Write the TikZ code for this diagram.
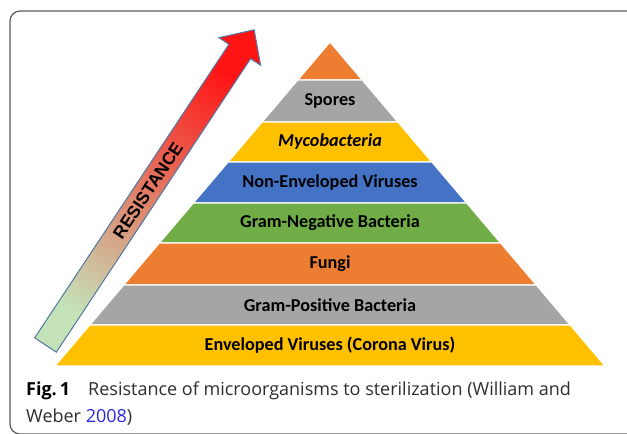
\documentclass[tikz,border=0pt]{standalone}
\usepackage{fontspec}
\usepackage{xcolor}
\usetikzlibrary{arrows.meta,positioning,calc}
\newfontfamily\bandfont{Carlito}
\newfontfamily\arrowfont{Liberation Sans}
\newfontfamily\capfont{Open Sans}
\definecolor{cOrange}{RGB}{237,125,49}
\definecolor{cGrey}{RGB}{165,165,165}
\definecolor{cYellow}{RGB}{255,192,0}
\definecolor{cBlue}{RGB}{68,114,196}
\definecolor{cGreen}{RGB}{112,173,71}
\definecolor{cLow}{RGB}{196,226,184}
\definecolor{cMid}{RGB}{222,150,118}
\definecolor{cHigh}{RGB}{255,20,20}
\definecolor{cEdge}{RGB}{80,120,165}
\definecolor{cFrame}{RGB}{90,90,90}
\definecolor{cLink}{RGB}{40,40,230}
\definecolor{cCap}{RGB}{45,45,45}
\tikzset{
  boxframe/.style={draw=cFrame, line width=1.2pt, rounded corners=10pt},
  lay/.style={draw=white, line width=1.2pt},
  band/.style={font=\bandfont\bfseries\fontsize{18.2}{21}\selectfont,
               text=black, inner sep=0pt},
  resarrow/.style={draw=cEdge, line width=1pt, bottom color=cLow, middle color=cMid,
               top color=cHigh, shading angle=-33.5},
  restxt/.style={font=\arrowfont\bfseries\fontsize{17.5}{20}\selectfont,
               text=black, inner sep=0pt},
  captxt/.style={font=\capfont\fontsize{18}{22}\selectfont, text=cCap,
              anchor=base west, inner sep=0pt},
}
\begin{document}
\begin{tikzpicture}[x=1pt, y=-1pt]
  \useasboundingbox (0,0) rectangle (627,434);
  \draw[boxframe] (10,11) rectangle (645,434);

  \foreach \ya/\yb/\col in {42/80/cOrange, 80/122/cGrey, 122/162/cYellow, 162/203/cBlue,
      203/243/cGreen, 243/285/cOrange, 285/325/cGrey, 325/366/cYellow} {
    \filldraw[lay, fill=\col] ({330-0.849*(\ya-42)},\ya) -- ({330+0.849*(\ya-42)},\ya)
      -- ({330+0.849*(\yb-42)},\yb) -- ({330-0.849*(\yb-42)},\yb) -- cycle;
  }
  \node[band] (spo) at (330,101) {Spores};
  \node[band] (myc) at (330,142) {\itshape Mycobacteria};
  \node[band] (nev) at (330,182.5) {Non-Enveloped Viruses};
  \node[band] (gneg) at (330,223) {Gram-Negative Bacteria};
  \node[band] (fun) at (330,264) {Fungi};
  \node[band] (gpos) at (330,305) {Gram-Positive Bacteria};
  \node[band] (env) at (330,345.5) {Enveloped Viruses (Corona Virus)};

  \coordinate (tail) at (45.5,345);
  \coordinate (tip) at (254.5,30);
  \begin{scope}[shift={(tail)}, rotate=56.5]
    \path[resarrow] (0,-13) -- (352,-13) -- (352,-25) -- (378,0) -- (352,25)
      -- (352,13) -- (0,13) -- cycle;
  \end{scope}
  \node[restxt, rotate=56.5] (res) at ($(tail)!0.49!(tip)$) {RESISTANCE};

  \node[captxt] (fig) at (26,395) {\bfseries\color{black}Fig.\,1};
  \node[captxt] (cap1) at (88,395) {Resistance of microorganisms to sterilization (William and};
  \node[captxt] (cap2) at (26,422) {Weber \textcolor{cLink}{2008})};
\end{tikzpicture}
\end{document}
